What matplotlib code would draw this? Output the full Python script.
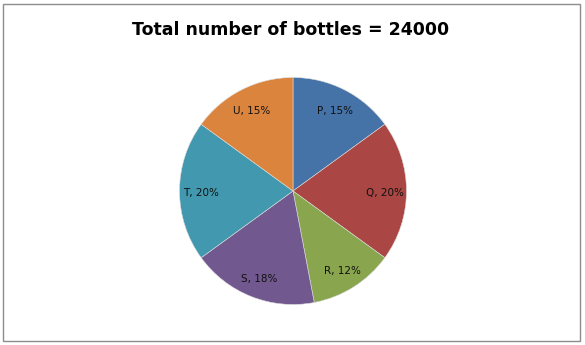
import matplotlib
matplotlib.use("Agg")
import matplotlib.pyplot as plt
import numpy as np
from matplotlib.patches import Rectangle

categories = ["P", "Q", "R", "S", "T", "U"]
values = [15, 20, 12, 18, 20, 15]
colors = ["#4572A7", "#AA4643", "#89A54E", "#71588F", "#4198AF", "#DB843D"]
title = "Total number of bottles = 24000"

W, H = 585, 345
fig = plt.figure(figsize=(W / 100, H / 100), dpi=100)
fig.patches.append(Rectangle((3 / W, 4 / H), 577 / W, 337 / H, transform=fig.transFigure,
                             fill=False, edgecolor="#8c8c8c", linewidth=1.0))

cx, cy, r = 293, 191, 113.5
ax = fig.add_axes([(cx - r) / W, (H - cy - r) / H, 2 * r / W, 2 * r / H])
wedges, _ = ax.pie(values, colors=colors, startangle=90, counterclock=False,
                   wedgeprops=dict(linewidth=0.4, edgecolor="#dddddd"))
ax.set_xlim(-1, 1)
ax.set_ylim(-1, 1)
ax.set_aspect("equal")
ax.axis("off")

for w, cat, v in zip(wedges, categories, values):
    ang = np.deg2rad((w.theta1 + w.theta2) / 2)
    d = 0.81
    ax.text(d * np.cos(ang), d * np.sin(ang) - 0.02, f"{cat}, {v}%", ha="center", va="center",
            fontsize=7.5, family="DejaVu Sans", color="#111111")

fig.text(291 / W, 1 - 30 / H, title, ha="center", va="center", fontsize=12.5,
         fontweight="bold", family="DejaVu Sans")

fig.savefig("out.png", dpi=100)
